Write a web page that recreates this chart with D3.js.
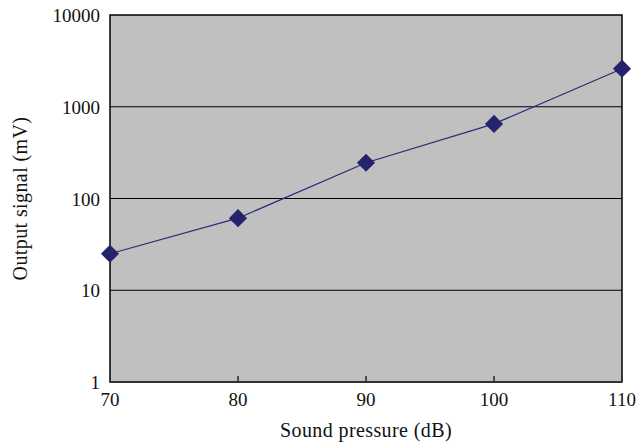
<!DOCTYPE html>
<html>
<head>
<meta charset="utf-8">
<script src="https://cdn.jsdelivr.net/npm/d3@7"></script>
<style>
  body { margin: 0; background: #fff; }
  text { font-family: "Liberation Serif", "DejaVu Serif", serif; fill: #111; }
</style>
</head>
<body>
<div id="chart"></div>
<script>
const pressure = [70, 80, 90, 100, 110];
const signal = [25, 61, 245, 650, 2600];
const xTicks = [70, 80, 90, 100, 110];
const yTicks = [1, 10, 100, 1000, 10000];

const width = 636, height = 444;
const margin = {top: 15, right: 14, bottom: 62, left: 110};
const w = width - margin.left - margin.right,
    h = height - margin.top - margin.bottom;

const x = d3.scaleLinear().domain([70, 110]).range([0, w]);
const y = d3.scaleLog().domain([1, 10000]).range([h, 0]);

const svg = d3.select("#chart").append("svg")
    .attr("width", width)
    .attr("height", height);

const g = svg.append("g")
    .attr("transform", "translate(" + margin.left + "," + margin.top + ")");

g.append("rect")
    .attr("width", w)
    .attr("height", h)
    .attr("fill", "#c0c0c0");

// horizontal gridlines
g.selectAll(".grid")
    .data(yTicks.slice(1, -1))
  .enter().append("line")
    .attr("x1", 0).attr("x2", w)
    .attr("y1", d => y(d)).attr("y2", d => y(d))
    .attr("stroke", "#000")
    .attr("stroke-width", 1);

// inward ticks on the x axis
g.selectAll(".xtick")
    .data(xTicks.slice(1, -1))
  .enter().append("line")
    .attr("x1", d => x(d)).attr("x2", d => x(d))
    .attr("y1", h).attr("y2", h - 6)
    .attr("stroke", "#000")
    .attr("stroke-width", 1.2);

// frame
g.append("rect")
    .attr("width", w)
    .attr("height", h)
    .attr("fill", "none")
    .attr("stroke", "#000")
    .attr("stroke-width", 1.5);
g.append("line")
    .attr("x1", 0).attr("x2", w)
    .attr("y1", h).attr("y2", h)
    .attr("stroke", "#333")
    .attr("stroke-width", 2);

// tick labels
g.selectAll(".xl")
    .data(xTicks)
  .enter().append("text")
    .attr("x", d => x(d))
    .attr("y", h + 24)
    .attr("text-anchor", "middle")
    .attr("font-size", 19)
    .text(d => d);

g.selectAll(".yl")
    .data(yTicks)
  .enter().append("text")
    .attr("x", -10)
    .attr("y", d => y(d) + 7)
    .attr("text-anchor", "end")
    .attr("font-size", 19)
    .text(d => d);

// series
const pts = pressure.map((p, i) => [p, signal[i]]);
g.append("path")
    .datum(pts)
    .attr("fill", "none")
    .attr("stroke", "#2b2a78")
    .attr("stroke-width", 1.2)
    .attr("d", d3.line().x(d => x(d[0])).y(d => y(d[1])));

g.selectAll(".pt")
    .data(pts)
  .enter().append("path")
    .attr("transform", d => "translate(" + x(d[0]) + "," + y(d[1]) + ")")
    .attr("d", d3.symbol(d3.symbolDiamond2, 210))
    .attr("fill", "#26236e");

// axis titles
svg.append("text")
    .attr("x", margin.left + w / 2)
    .attr("y", 437)
    .attr("text-anchor", "middle")
    .attr("font-size", 20)
    .attr("letter-spacing", 0.4)
    .text("Sound pressure (dB)");

svg.append("text")
    .attr("transform", "translate(27," + (margin.top + h / 2) + ") rotate(-90)")
    .attr("text-anchor", "middle")
    .attr("font-size", 20)
    .attr("letter-spacing", 0.4)
    .text("Output signal (mV)");
</script>
</body>
</html>
